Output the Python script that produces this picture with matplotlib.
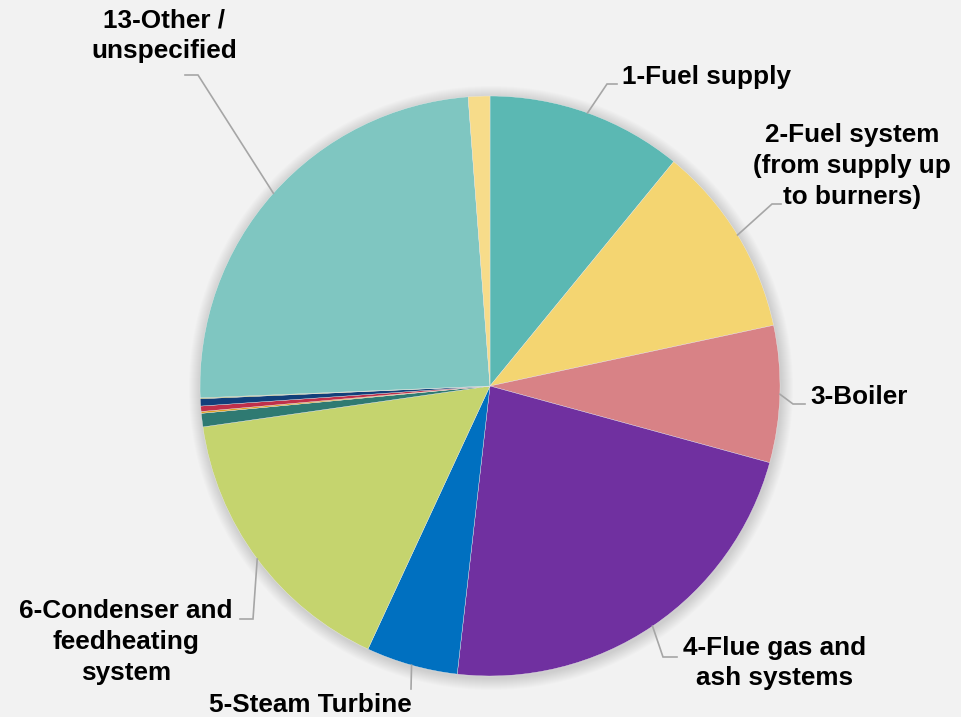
import numpy as np
import matplotlib
matplotlib.use("Agg")
import matplotlib.pyplot as plt
from matplotlib.patches import Circle

categories = ["1-Fuel supply", "2-Fuel system\n(from supply up\nto burners)", "3-Boiler",
              "4-Flue gas and\nash systems", "5-Steam Turbine",
              "6-Condenser and\nfeedheating\nsystem", "7", "8", "9", "10", "11",
              "13-Other /\nunspecified", "14"]
values = [10.9, 10.7, 7.6, 22.5, 5.1, 15.8, 0.75, 0.1, 0.3, 0.4, 0.05, 24.4, 1.2]
colors = ["#5BB8B3", "#F4D571", "#D88286", "#7030A0", "#0070C0", "#C5D46E",
          "#2F7A72", "#E0A020", "#C0304A", "#123F7A", "#A0A040", "#7FC6C1", "#F7DC8A"]
shown = [True, True, True, True, True, True, False, False, False, False, False, True, False]

W, H = 962, 717
fig = plt.figure(figsize=(W / 100, H / 100), dpi=100)
fig.patch.set_facecolor("#F2F2F2")
ax = fig.add_axes([0, 0, 1, 1])
ax.set_facecolor("#F2F2F2")

cx, cy, R = 490, H - 386, 290

# soft shadow
for i in range(12):
    ax.add_patch(Circle((cx + 1, cy - 2), R + 12 - i, facecolor="#000000",
                        alpha=0.012, edgecolor="none", zorder=0))

wedges, _ = ax.pie(values, colors=colors, startangle=90, counterclock=False,
                   center=(cx, cy), radius=R, frame=True,
                   wedgeprops=dict(edgecolor="#EDEDED", linewidth=0.25))
ax.set_xlim(0, W)
ax.set_ylim(0, H)
ax.set_aspect("equal")
ax.axis("off")

# label layout: (elbow point, end point, text pos, ha)  in pixel coordinates (top-left origin)
layout = {
    0: ((607, 84), (617, 84), (622, 77), "left"),
    1: ((772, 204), (781, 204), (852, 166), "center"),
    2: ((793, 404), (805, 404), (810, 397), "left"),
    3: ((663, 657), (677, 657), (775, 663), "center"),
    4: ((411, 689), (411, 689), (310, 705), "center"),
    5: ((253, 619), (240, 619), (126, 642), "center"),
    11: ((198, 75), (185, 75), (164, 36), "center"),
}

for i, w in enumerate(wedges):
    if not shown[i]:
        continue
    th = np.deg2rad((w.theta1 + w.theta2) / 2)
    ax_ = cx + R * np.cos(th)
    ay_ = cy + R * np.sin(th)
    (ex, ey), (fx, fy), (tx, ty), ha = layout[i]
    ax.plot([ax_, ex, fx], [ay_, H - ey, H - fy], color="#A6A6A6", lw=1.2,
            solid_joinstyle="miter", zorder=3)
    ax.text(tx, H - ty, categories[i], ha=ha, va="center", fontsize=18.8,
            fontweight="bold", family="Liberation Sans", color="#000000",
            linespacing=1.36, zorder=4)

fig.savefig("out.png", dpi=100, facecolor=fig.get_facecolor())
